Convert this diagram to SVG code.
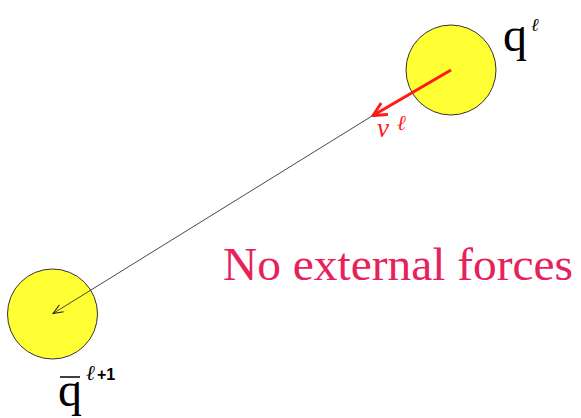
<svg xmlns="http://www.w3.org/2000/svg" width="581" height="418" viewBox="0 0 581 418">
<defs>
<marker id="open" viewBox="0 0 12 10" refX="11" refY="5" markerWidth="12" markerHeight="10" markerUnits="userSpaceOnUse" orient="auto">
<path d="M1,1 L11,5 L1,9" fill="none" stroke="#222" stroke-width="1"/>
</marker>
<marker id="red" viewBox="0 0 12 12" refX="11" refY="6" markerWidth="16" markerHeight="16" markerUnits="userSpaceOnUse" orient="auto">
<path d="M1,1 L11,6 L1,11" fill="none" stroke="#ff1a1a" stroke-width="2.2"/>
</marker>
</defs>
<g id="node-q">
<circle cx="451" cy="70" r="45" fill="#ffff33" stroke="#333" stroke-width="1"/>
<text style="font-family:'Liberation Serif'" x="503" y="51" font-size="48" fill="#000">q</text>
<text style="font-family:'Liberation Serif'" font-style="italic" x="531" y="31" font-size="18" fill="#000">ℓ</text>
</g>
<g id="node-qbar">
<circle cx="52.5" cy="314" r="45" fill="#ffff33" stroke="#333" stroke-width="1"/>
<text style="font-family:'Liberation Serif'" x="58" y="406" font-size="48" fill="#000">q</text>
<line x1="60" y1="377" x2="80" y2="377" stroke="#000" stroke-width="1.5"/>
<text style="font-family:'Liberation Serif'" font-style="italic" x="86" y="380" font-size="21" fill="#000">ℓ</text>
<text style="font-family:'Liberation Sans'" font-weight="bold" x="97" y="380" font-size="16" fill="#000">+1</text>
</g>
<g id="connectors">
<line x1="372" y1="116" x2="53" y2="313.5" stroke="#333" stroke-width="0.9" marker-end="url(#open)"/>
<line x1="451" y1="70" x2="373" y2="115.5" stroke="#ff1a1a" stroke-width="3" marker-end="url(#red)"/>
</g>
<g id="label-v">
<text style="font-family:'Liberation Serif'" font-style="italic" x="377" y="137" font-size="27" fill="#ff1a1a">v</text>
<text style="font-family:'Liberation Serif'" font-style="italic" x="397" y="130" font-size="21" fill="#ff1a1a">ℓ</text>
</g>
<g id="caption">
<text style="font-family:'Liberation Serif'" font-size="47.4" x="223" y="280" fill="#e8215a">No external forces</text>
</g>
</svg>
